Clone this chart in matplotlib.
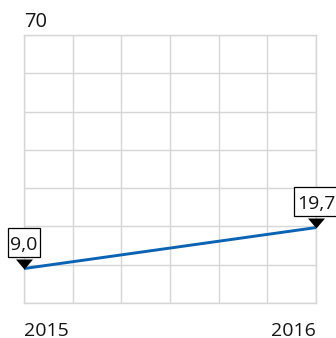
import numpy as np
import matplotlib
matplotlib.use("Agg")
from matplotlib import pyplot as plt
from matplotlib.path import Path

years = [2015, 2016]
values = [9.0, 19.7]
y_max = 70
y_step = 10
x_divisions = 6

plt.rcParams["font.family"] = ["Open Sans", "DejaVu Sans"]

fig = plt.figure(figsize=(3.36, 3.38), dpi=100)
ax = fig.add_axes([24 / 336, 35 / 338, 292 / 336, 268 / 338])

grid_color = "#d6d6d6"
line_color = "#0a63b3"
text_color = "#141414"

ax.set_xlim(years[0], years[-1])
ax.set_ylim(0, y_max)

# grid: horizontal every 10, vertical in 6 equal steps
ax.set_yticks(np.arange(0, y_max + 1, y_step))
ax.set_xticks(np.linspace(years[0], years[-1], x_divisions + 1), minor=True)
ax.set_xticks(years)
ax.grid(True, which="both", color=grid_color, lw=1.0)
ax.set_axisbelow(True)
for s in ax.spines.values():
    s.set_color(grid_color)
    s.set_linewidth(1.0)

ax.tick_params(which="both", length=0)
ax.set_yticklabels([])
ax.set_xticklabels([str(y) for y in years], fontsize=14, color=text_color)
ax.tick_params(axis="x", pad=14)
xlabels = ax.get_xticklabels()
xlabels[0].set_ha("left")
xlabels[-1].set_ha("right")

# top value of the scale
ax.annotate(str(y_max), xy=(years[0], y_max), xytext=(0, 8),
            textcoords="offset pixels", ha="left", va="baseline",
            fontsize=14.5, color=text_color, annotation_clip=False)

ax.plot(years, values, color=line_color, lw=2.1, solid_capstyle="butt",
        clip_on=False, zorder=3)


def flag_box(x0, y0, width, height, mutation_size):
    # narrow side padding, taller top so the digits sit centred
    px = 0.12 * mutation_size
    pb = 0.20 * mutation_size
    pt = 0.38 * mutation_size
    x1, y1 = x0 - px, y0 - pb
    x2, y2 = x0 + width + px, y0 + height + pt
    return Path([(x1, y1), (x2, y1), (x2, y2), (x1, y2), (x1, y1)], closed=True)


# value flags: small down-pointing triangle with a boxed label above it
tri = Path([(-0.85, 1), (0.85, 1), (0, 0), (-0.85, 1)],
           [Path.MOVETO, Path.LINETO, Path.LINETO, Path.CLOSEPOLY])
ax.plot(years, values, ls="none", marker=tri, ms=14.4, color="black",
        mec="black", mew=0, clip_on=False, zorder=4)

for x, v in zip(years, values):
    ax.annotate(f"{v:.1f}".replace(".", ","), xy=(x, v), xytext=(0, 24),
                textcoords="offset pixels", ha="center", va="center",
                fontsize=14, color=text_color, zorder=5,
                annotation_clip=False,
                bbox=dict(boxstyle=flag_box, fc="white", ec="black", lw=0.9))

fig.savefig("out.png", dpi=100)
